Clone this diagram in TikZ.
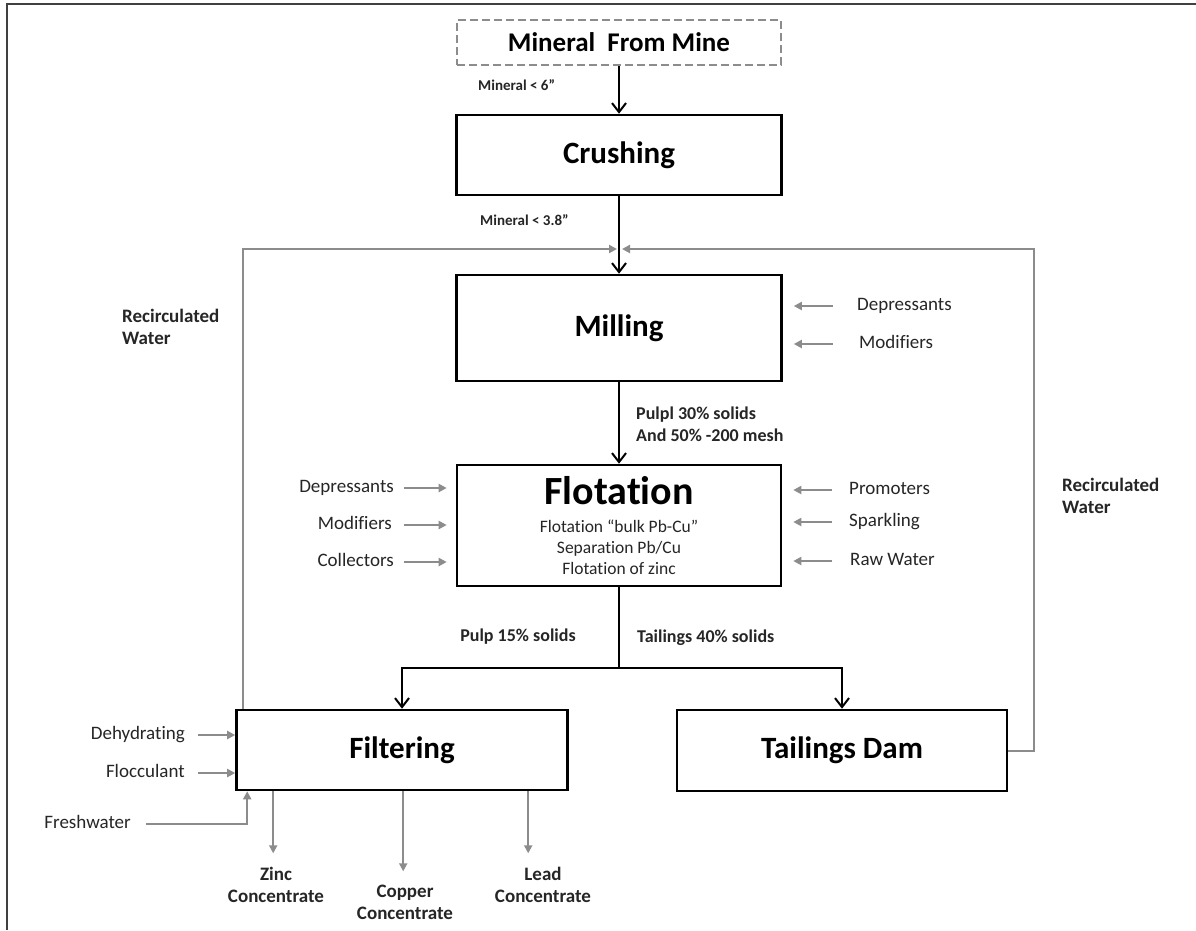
\documentclass[tikz,border=0pt]{standalone}
\usepackage{fontspec}
\setmainfont{Carlito}[Ligatures={NoCommon}]
\usetikzlibrary{arrows.meta,calc}
\definecolor{gline}{HTML}{8C8C8C}
\definecolor{frame}{HTML}{404040}
\begin{document}
\begin{tikzpicture}[x=1pt,y=-1pt,
  box/.style={draw=black, line width=2.6pt, inner sep=0pt, font=\fontsize{31}{34}\selectfont\bfseries},
  blk/.style={draw=black, line width=2.2pt, -{Straight Barb[length=9pt,width=14pt,line width=2pt]}},
  blkline/.style={draw=black, line width=2.2pt},
  garr/.style={draw=gline, line width=2pt, -{Triangle[length=8pt,width=8pt]}},
  side/.style={font=\fontsize{19}{22}\selectfont, text=black!85, inner sep=0pt, text height=13pt, text depth=4pt},
  sub/.style={font=\fontsize{17.5}{21}\selectfont, text=black!85, align=center, inner sep=0pt},
  lab/.style={font=\fontsize{18}{22}\selectfont\bfseries, text=black!85, inner sep=0pt, text height=12pt, text depth=4pt},
  mlab/.style={font=\fontsize{18}{22}\selectfont\bfseries, text=black!85, inner sep=0pt, align=left},
  rwlab/.style={font=\fontsize{19}{22}\selectfont\bfseries, text=black!85, inner sep=0pt, align=left},
  smlab/.style={font=\fontsize{15}{18}\selectfont\bfseries, text=black!85, inner sep=0pt, text height=10pt, text depth=3pt},
  outlab/.style={font=\fontsize{19}{22}\selectfont\bfseries, text=black!85, align=center, inner sep=0pt}
]
\useasboundingbox (0,0) rectangle (1196,930);
\fill[white] (0,0) rectangle (1196,930);
% frame
\draw[frame, line width=2.2pt] (7,930) -- (7,4) -- (1196,4);

% boxes
\node[box, draw=gline, line width=2pt, dash pattern=on 8pt off 4pt, minimum width=324pt, minimum height=45pt, font=\fontsize{27}{30}\selectfont\bfseries] (mine) at (619,42.5) {Mineral\ \ From Mine};
\node[box, minimum width=325pt, minimum height=80pt] (crush) at (619,155) {Crushing};
\node[box, minimum width=325pt, minimum height=106pt] (mill) at (619,328) {Milling};
\node[box, minimum width=324pt, minimum height=121pt] (flot) at (619,525.5) {};
\node[font=\fontsize{40}{44}\selectfont\bfseries, inner sep=0pt] (flott) at (619,491) {Flotation};
\node[sub] (flots) at (619,547) {Flotation “bulk Pb-Cu”\\Separation Pb/Cu\\Flotation of zinc};
\node[box, minimum width=331pt, minimum height=80pt] (filt) at (402,750) {Filtering};
\node[box, minimum width=330pt, minimum height=81pt] (dam) at (842,750.5) {Tailings Dam};

% main flow
\draw[blk] (mine.south) -- (crush.north);
\draw[blk] (crush.south) -- (mill.north);
\draw[blk] (mill.south) -- (flot.north);
\draw[blkline] (flot.south) -- ++(0,81) coordinate (split);
\draw[blk] (split) -| (filt.north);
\draw[blk] (split) -| (dam.north);

% labels on main flow
\node[smlab, anchor=west] (l6) at (478,87) {Mineral < 6”};
\node[smlab, anchor=west] (l38) at (480,222) {Mineral < 3.8”};
\node[mlab, anchor=west] (lpulp) at (636,424) {Pulpl 30\% solids\\And 50\% -200 mesh};
\node[lab, anchor=center] (l15) at (518,637) {Pulp 15\% solids};
\node[lab, anchor=west] (l40) at (637,638) {Tailings 40\% solids};

% recirculation
\coordinate (ljoin) at (617,249);
\coordinate (rjoin) at (622,249);
\coordinate (rcorner) at (1034,400);
\draw[garr] ([xshift=8pt]filt.north west) |- (ljoin);
\draw[garr] (dam.east) -| (rcorner) |- (rjoin);
\node[rwlab, anchor=west] (rwl) at (122,327) {Recirculated\\Water};
\node[rwlab, anchor=west] (rwr) at (1062,496) {Recirculated\\Water};

% milling inputs
\node[side, anchor=west] (mdep) at (857,306) {Depressants};
\node[side, anchor=west] (mmod) at (859,344) {Modifiers};
\draw[garr] ($(mdep.west -| mill.east)+(50,0)$) -- ($(mdep.west -| mill.east)+(11,0)$);
\draw[garr] ($(mmod.west -| mill.east)+(50,0)$) -- ($(mmod.west -| mill.east)+(11,0)$);

% flotation inputs left
\node[side, anchor=east] (fdep) at (394,488) {Depressants};
\node[side, anchor=east] (fmod) at (392,525) {Modifiers};
\node[side, anchor=east] (fcol) at (394,562) {Collectors};
\foreach \n in {fdep,fmod,fcol}{
  \draw[garr] ($(\n.west -| flot.west)+(-52,0)$) -- ($(\n.west -| flot.west)+(-9,0)$);
}
% flotation inputs right
\node[side, anchor=west] (fpro) at (849,490) {Promoters};
\node[side, anchor=west] (fspa) at (849,522) {Sparkling};
\node[side, anchor=west] (fraw) at (850,561) {Raw Water};
\foreach \n in {fpro,fspa,fraw}{
  \draw[garr] ($(\n.west -| flot.east)+(50,0)$) -- ($(\n.west -| flot.east)+(11,0)$);
}

% filtering inputs
\node[side, anchor=east] (dehy) at (185,735) {Dehydrating};
\node[side, anchor=east] (floc) at (185,773) {Flocculant};
\node[side, anchor=east] (fresh) at (131,824) {Freshwater};
\draw[garr] ($(dehy.east)+(13,0)$) -- (dehy.east -| filt.west);
\draw[garr] ($(floc.east)+(13,0)$) -- (floc.east -| filt.west);
\draw[garr] ($(fresh.east)+(15,0)$) -| ([xshift=12pt]filt.south west);

% outputs
\node[outlab] (zinc) at (276,885) {Zinc\\Concentrate};
\node[outlab] (copper) at (405,902) {Copper\\Concentrate};
\node[outlab] (lead) at (543,885) {Lead\\Concentrate};
\draw[garr] ([xshift=38pt]filt.south west) -- ++(0,62);
\draw[garr] ([xshift=168pt]filt.south west) -- ++(0,80);
\draw[garr] ([xshift=293pt]filt.south west) -- ++(0,62);
\end{tikzpicture}
\end{document}
